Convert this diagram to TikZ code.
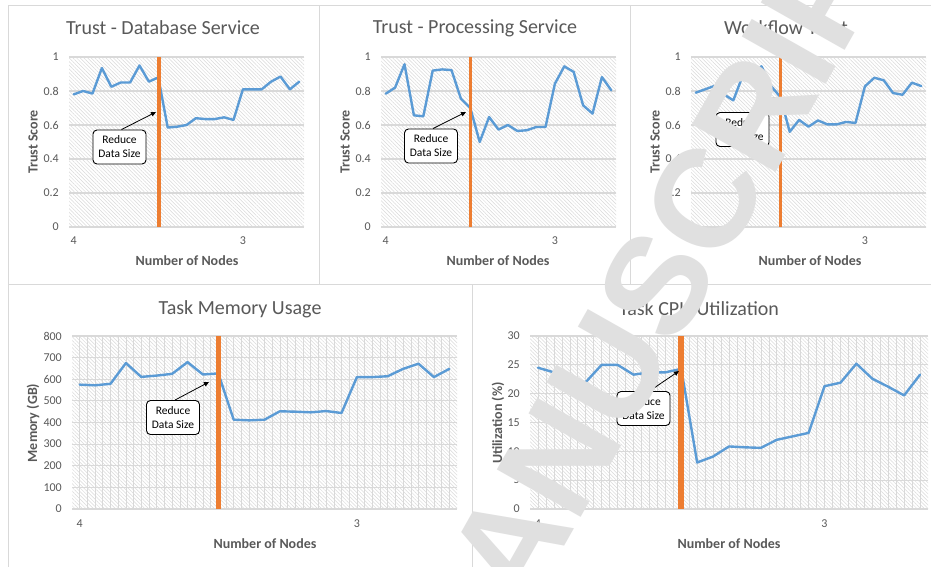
\documentclass[tikz,border=0pt]{standalone}
\usepackage{fontspec}
\setmainfont{Carlito}
\newfontfamily\wmfont{Liberation Sans}
\usetikzlibrary{arrows.meta,patterns.meta}

\definecolor{xlblue}{HTML}{5B9BD5}
\definecolor{xlorange}{HTML}{ED7D31}
\definecolor{xltext}{HTML}{595959}
\definecolor{xlframe}{HTML}{D9D9D9}
\definecolor{xlgrid}{HTML}{D9D9D9}
\definecolor{xlhatch}{HTML}{DADADA}
\definecolor{wmgray}{HTML}{E0E0E0}

\tikzset{
  panelframe/.style={draw=xlframe, line width=1pt},
  plotbg/.style={pattern={Lines[angle=-45,distance=2.6pt,line width=0.5pt]}, pattern color=xlhatch},
  hgrid/.style={draw=xlgrid, line width=1.2pt},
  vgrid/.style={draw=xlgrid, line width=0.6pt},
  series/.style={draw=xlblue, line width=2.4pt, line join=round, line cap=round},
  cutline/.style={draw=xlorange, line width=#1},
  charttitle/.style={text=xltext, font=\fontsize{20}{22}\selectfont},
  ticklabel/.style={text=xltext, font=\fontsize{12}{13}\selectfont, inner sep=0pt},
  axistitle/.style={text=xltext, font=\bfseries\fontsize{14}{16}\selectfont, inner sep=0pt},
  notebox/.style={draw=black, line width=0.9pt, rounded corners=4pt, fill=white, align=center,
    font=\fontsize{11.5}{14}\selectfont, inner sep=1pt, minimum width=53pt, minimum height=34pt},
  notearrow/.style={draw=black, line width=0.8pt, -{Triangle[length=5pt,width=4.5pt]}},
  watermark/.style={text=wmgray, inner sep=0pt, font=\wmfont\bfseries\fontsize{140}{140}\selectfont}
}

% plot area: left, right, top, bottom, number of horizontal bands
\newcommand\plotarea[5]{%
  \fill[white] (#1,#3) rectangle (#2,#4);
  \fill[plotbg] (#1,#3) rectangle (#2,#4);
  \foreach \k in {0,...,#5}{%
    \draw[hgrid] (#1,{#4-\k/#5*(#4-#3)}) -- (#2,{#4-\k/#5*(#4-#3)});
  }%
}
% vertical guide lines at every half category (25 categories)
\newcommand\vguides[4]{%
  \foreach \k in {1,...,49}{%
    \draw[vgrid] ({#1+\k/50*(#2-#1)},#3) -- ({#1+\k/50*(#2-#1)},#4);
  }%
}
% data series: prefix, left, right, top, bottom, y maximum, 25 values
\newcommand\dataseries[7]{%
  \pgfmathsetmacro\cw{(#3-#2)/25}%
  \foreach \v [count=\i from 0] in {#7}{%
    \coordinate (#1\i) at ({#2+(\i+0.5)*\cw},{#5-\v/#6*(#5-#4)});
  }%
  \draw[series] (#10) \foreach \i in {1,...,24}{ -- (#1\i)};
}

\begin{document}
\begin{tikzpicture}[x=1pt,y=-1pt]
\useasboundingbox (0,0) rectangle (931,566);
\clip (0,0) rectangle (931,566);
\fill[white] (0,0) rectangle (931,566);

% ---------- panel frames ----------
\draw[panelframe] (8,5) rectangle (319,284);
\draw[panelframe] (319,5) rectangle (630,284);
\draw[panelframe] (630,5) rectangle (950,284);
\draw[panelframe] (8,284) rectangle (472,580);
\draw[panelframe] (472,284) rectangle (950,580);

% ---------- Trust - Database Service ----------
\plotarea{69}{304}{57}{227}{5}
\dataseries{a}{69}{304}{57}{227}{1}{0.78,0.80,0.785,0.935,0.825,0.85,0.85,0.95,0.855,0.88,0.585,0.59,0.60,0.64,0.635,0.635,0.645,0.63,0.81,0.81,0.81,0.855,0.885,0.81,0.855}
\draw[cutline=3.5pt] (158.8,57) -- (158.8,227);
\node[charttitle] (t1) at (163,28) {Trust - Database Service};
\foreach \t [count=\k from 0] in {0,0.2,0.4,0.6,0.8,1}
  \node[ticklabel, anchor=east] (a-y\k) at (59,{227-\k*34}) {\t};
\node[ticklabel] (a-x4) at (a0 |- 0,241) {4};
\node[ticklabel] (a-x3) at (a18 |- 0,241) {3};
\node[axistitle] (a-xt) at (187,261) {Number of Nodes};
\node[axistitle, rotate=90] (a-yt) at (33,142) {Trust Score};
\node[notebox] (n1) at (119.5,147) {Reduce\\Data Size};
\coordinate (n1tip) at (156,112);
\draw[notearrow] (n1.north) ++(2,0) -- (n1tip);

% ---------- Trust - Processing Service ----------
\plotarea{381}{616}{57}{227}{5}
\dataseries{b}{381}{616}{57}{227}{1}{0.784,0.82,0.957,0.657,0.651,0.92,0.927,0.923,0.755,0.70,0.50,0.647,0.573,0.60,0.565,0.569,0.588,0.588,0.843,0.945,0.912,0.716,0.667,0.882,0.804}
\draw[cutline=3.5pt] (470.3,57) -- (470.3,227);
\node[charttitle] (t2) at (475,28) {Trust - Processing Service};
\foreach \t [count=\k from 0] in {0,0.2,0.4,0.6,0.8,1}
  \node[ticklabel, anchor=east] (b-y\k) at (371,{227-\k*34}) {\t};
\node[ticklabel] (b-x4) at (b0 |- 0,241) {4};
\node[ticklabel] (b-x3) at (b18 |- 0,241) {3};
\node[axistitle] (b-xt) at (498,261) {Number of Nodes};
\node[axistitle, rotate=90] (b-yt) at (345,142) {Trust Score};
\node[notebox] (n2) at (431,146) {Reduce\\Data Size};
\coordinate (n2tip) at (466,112);
\draw[notearrow] (n2.north) ++(2,0) -- (n2tip);

% ---------- Workflow Trust ----------
\plotarea{691}{926}{57}{227}{5}
\dataseries{c}{691}{926}{57}{227}{1}{0.79,0.81,0.83,0.78,0.745,0.89,0.89,0.945,0.83,0.765,0.56,0.63,0.59,0.627,0.604,0.604,0.618,0.612,0.827,0.878,0.863,0.788,0.778,0.849,0.829}
\draw[cutline=3.5pt] (780.5,57) -- (780.5,227);
\node[charttitle] (t3) at (786,28) {Workflow Trust};
\foreach \t [count=\k from 0] in {0,0.2,0.4,0.6,0.8,1}
  \node[ticklabel, anchor=east] (c-y\k) at (681,{227-\k*34}) {\t};
\node[ticklabel] (c-x4) at (c0 |- 0,241) {4};
\node[ticklabel] (c-x3) at (c18 |- 0,241) {3};
\node[axistitle] (c-xt) at (810,261) {Number of Nodes};
\node[axistitle, rotate=90] (c-yt) at (655,142) {Trust Score};
\node[notebox] (n3) at (742.5,129.5) {Reduce\\Data Size};
\coordinate (n3tip) at (776,97);
\draw[notearrow] (n3.north) ++(14,0) -- (n3tip);

% ---------- Task Memory Usage ----------
\plotarea{72}{457}{336}{509}{8}
\vguides{72}{457}{336}{509}
\dataseries{d}{72}{457}{336}{509}{800}{575,572,579,675,611,617,625,679,622,627,413,410,413,452,450,447,453,444,610,610,614,648,672,610,648}
\draw[cutline=5.5pt] (218.3,336) -- (218.3,509);
\node[charttitle] (t4) at (240,309) {Task Memory Usage};
\foreach \t [count=\k from 0] in {0,100,200,300,400,500,600,700,800}
  \node[ticklabel, anchor=east] (d-y\k) at (62,{509-\k*21.625}) {\t};
\node[ticklabel] (d-x4) at (d0 |- 0,524) {4};
\node[ticklabel] (d-x3) at (d18 |- 0,524) {3};
\node[axistitle] (d-xt) at (265,544) {Number of Nodes};
\node[axistitle, rotate=90] (d-yt) at (33,423) {Memory (GB)};
\node[notebox] (n4) at (173,417.5) {Reduce\\Data Size};
\coordinate (n4tip) at (209,382);
\draw[notearrow] (n4.north) ++(2,0) -- (n4tip);

% ---------- Task CPU Utilization ----------
\plotarea{530}{928}{336}{509}{6}
\vguides{530}{928}{336}{509}
\dataseries{e}{530}{928}{336}{509}{30}{24.5,23.7,22.0,22.0,25.0,25.0,23.3,23.7,23.7,24.3,8.07,9.1,10.85,10.7,10.6,12.0,12.6,13.2,21.3,21.9,25.2,22.6,21.2,19.7,23.3}
\draw[cutline=5.5pt] (681.2,336) -- (681.2,509);
\node[charttitle] (t5) at (699,309) {Task CPU Utilization};
\foreach \t [count=\k from 0] in {0,5,10,15,20,25,30}
  \node[ticklabel, anchor=east] (e-y\k) at (520,{509-\k*28.833}) {\t};
\node[ticklabel] (e-x4) at (e0 |- 0,524) {4};
\node[ticklabel] (e-x3) at (e18 |- 0,524) {3};
\node[axistitle] (e-xt) at (729,544) {Number of Nodes};
\node[axistitle, rotate=90] (e-yt) at (498,423) {Utilization (\%)};
\node[notebox] (n5) at (643.5,408.5) {Reduce\\Data Size};
\coordinate (n5tip) at (679,371);
\draw[notearrow] (n5.north) ++(6,0) -- (n5tip);

% ---------- diagonal watermark ----------
\node[watermark, rotate=60.5, anchor=base west] (wm) at (469,715) {MANUSCRIPT};
\end{tikzpicture}
\end{document}
